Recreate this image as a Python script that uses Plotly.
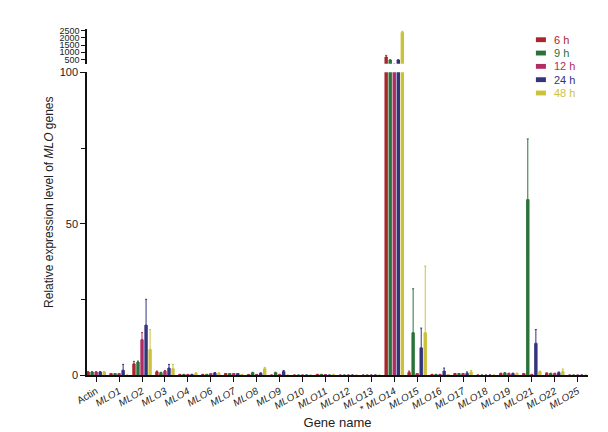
import plotly.graph_objects as go

genes = ['Actin', 'MLO1', 'MLO2', 'MLO3', 'MLO4', 'MLO6', 'MLO7', 'MLO8', 'MLO9', 'MLO10', 'MLO11',
         'MLO12', 'MLO13', 'MLO14', 'MLO15', 'MLO16', 'MLO17', 'MLO18', 'MLO19', 'MLO21', 'MLO22', 'MLO25']
tick_labels = ['Actin'] + ['<i>%s</i>' % g for g in genes[1:]]
tick_labels[13] = '* <i>MLO14</i>'

# mean values per time point
h6 = [1.0, 0.3, 3.7, 1.1, 0.2, 0.2, 0.4, 0.1, 0.0, 0, 0.2, 0, 0, 670, 0.9, 0.2, 0.4, 0, 0.5, 0.3, 0.6, 0]
h9 = [1.0, 0.3, 4.3, 0.8, 0.2, 0.2, 0.3, 0.8, 0.8, 0, 0.2, 0, 0, 450, 14, 0.2, 0.4, 0, 0.7, 58, 0.5, 0]
h12 = [1.0, 0.3, 11.7, 1.3, 0.2, 0.3, 0.4, 0.2, 0.2, 0, 0.1, 0, 0, 160, 0.3, 0.2, 0.4, 0, 0.5, 0.2, 0.5, 0]
h24 = [1.0, 1.6, 16.5, 2.3, 0.2, 0.7, 0.3, 0.6, 1.2, 0, 0.0, 0, 0, 450, 9, 1.3, 0.6, 0, 0.5, 10.5, 0.8, 0]
h48 = [1.0, 0.0, 8.5, 2.1, 0.6, 0.6, 0.2, 2.1, 0.0, 0, 0.2, 0, 0, 2400, 14, 0.1, 1.0, 0, 0.5, 1.1, 1.2, 0]

# upper error (SD)
e6 = [0.1, 0.1, 0.8, 0.2, 0, 0, 0.1, 0, 0, 0, 0, 0, 0, 110, 0.4, 0, 0.1, 0, 0.1, 0.1, 0.1, 0]
e9 = [0.1, 0.1, 0.3, 0.1, 0, 0, 0.1, 0.1, 0.1, 0, 0, 0, 0, 30, 14.5, 0, 0.1, 0, 0.1, 20, 0.1, 0]
e12 = [0.1, 0.1, 2.3, 0.2, 0, 0, 0.1, 0, 0, 0, 0, 0, 0, 0, 0.1, 0, 0.1, 0, 0.1, 0, 0.1, 0]
e24 = [0.1, 1.9, 8.5, 1.2, 0, 0.1, 0.1, 0.1, 0.3, 0, 0, 0, 0, 30, 6.5, 1.0, 0.4, 0, 0.1, 4.5, 0.2, 0]
e48 = [0.1, 0, 6.5, 1.4, 0.1, 0.1, 0, 0.4, 0, 0, 0, 0, 0, 60, 22, 0, 0.5, 0, 0.1, 0.2, 0.8, 0]

series = [
    ('6 h', h6, e6, '#a8262e'),
    ('9 h', h9, e9, '#2a7338'),
    ('12 h', h12, e12, '#b02c63'),
    ('24 h', h24, e24, '#34347e'),
    ('48 h', h48, e48, '#cbc23c'),
]

fig = go.Figure()
for name, vals, errs, col in series:
    # same bars on the lower (0-100) and upper (broken) segment
    for yax in ('y', 'y2'):
        fig.add_trace(go.Bar(
            x=genes, y=vals, yaxis=yax, name=name, showlegend=False,
            marker={'color': col, 'line': {'width': 0}},
            error_y={'type': 'data', 'array': errs, 'arrayminus': [0] * len(errs),
                     'symmetric': False, 'color': col, 'thickness': 1, 'width': 1},
        ))

# legend drawn by hand (Prism style: coloured key and coloured text)
shapes = []
annotations = []
for i, (name, vals, errs, col) in enumerate(series):
    yy = 0.969 - i * 0.0385
    shapes.append({'type': 'rect', 'xref': 'paper', 'yref': 'paper',
                   'x0': 0.896, 'x1': 0.916, 'y0': yy - 0.007, 'y1': yy + 0.007,
                   'fillcolor': col, 'line': {'width': 0}})
    annotations.append({'text': name, 'xref': 'paper', 'yref': 'paper', 'x': 0.928, 'y': yy,
                        'xanchor': 'left', 'yanchor': 'middle', 'showarrow': False,
                        'font': {'size': 11, 'color': col}})

annotations.append({
    'text': 'Relative expression level of <i>MLO</i> genes',
    'xref': 'paper', 'yref': 'paper', 'x': -0.076, 'y': 0.5,
    'xanchor': 'center', 'yanchor': 'middle', 'textangle': -90,
    'showarrow': False, 'font': {'size': 12, 'color': '#222'},
})

fig.update_layout(
    width=608, height=432,
    margin={'l': 79, 'r': 28, 't': 21, 'b': 52},
    plot_bgcolor='white', paper_bgcolor='white',
    barmode='group', bargap=0.12, bargroupgap=0.15,
    font={'family': 'Liberation Sans, Arial', 'size': 11, 'color': '#222'},
    showlegend=False,
    shapes=shapes,
    annotations=annotations,
    xaxis={
        'type': 'category', 'range': [-0.4, 21.45],
        'tickvals': genes, 'ticktext': tick_labels, 'tickangle': -30,
        'tickfont': {'size': 10, 'color': '#222'},
        'showline': True, 'linecolor': '#111', 'linewidth': 1.5,
        'ticks': 'outside', 'ticklen': 5, 'tickwidth': 1.2, 'tickcolor': '#111',
        'showgrid': False, 'anchor': 'y',
        'title': {'text': 'Gene name', 'font': {'size': 13, 'color': '#222'}, 'standoff': 4},
    },
    yaxis={
        'domain': [0, 0.8747], 'range': [0, 100],
        'tickvals': [0, 50, 100], 'tickfont': {'size': 11, 'color': '#222'},
        'showline': True, 'linecolor': '#111', 'linewidth': 1.5,
        'ticks': 'outside', 'ticklen': 5, 'tickwidth': 1.2, 'tickcolor': '#111',
        'minor': {'tickvals': [25, 75], 'ticks': 'outside', 'ticklen': 4, 'tickcolor': '#111'},
        'showgrid': False, 'zeroline': False,
    },
    yaxis2={
        'domain': [0.8997, 1], 'range': [200, 2620],
        'tickvals': [500, 1000, 1500, 2000, 2500], 'tickfont': {'size': 9, 'color': '#222'},
        'showline': True, 'linecolor': '#111', 'linewidth': 1.5,
        'ticks': 'outside', 'ticklen': 4, 'tickwidth': 1.2, 'tickcolor': '#111',
        'showgrid': False, 'zeroline': False, 'anchor': 'x',
    },
)

fig.write_html("out.html")
